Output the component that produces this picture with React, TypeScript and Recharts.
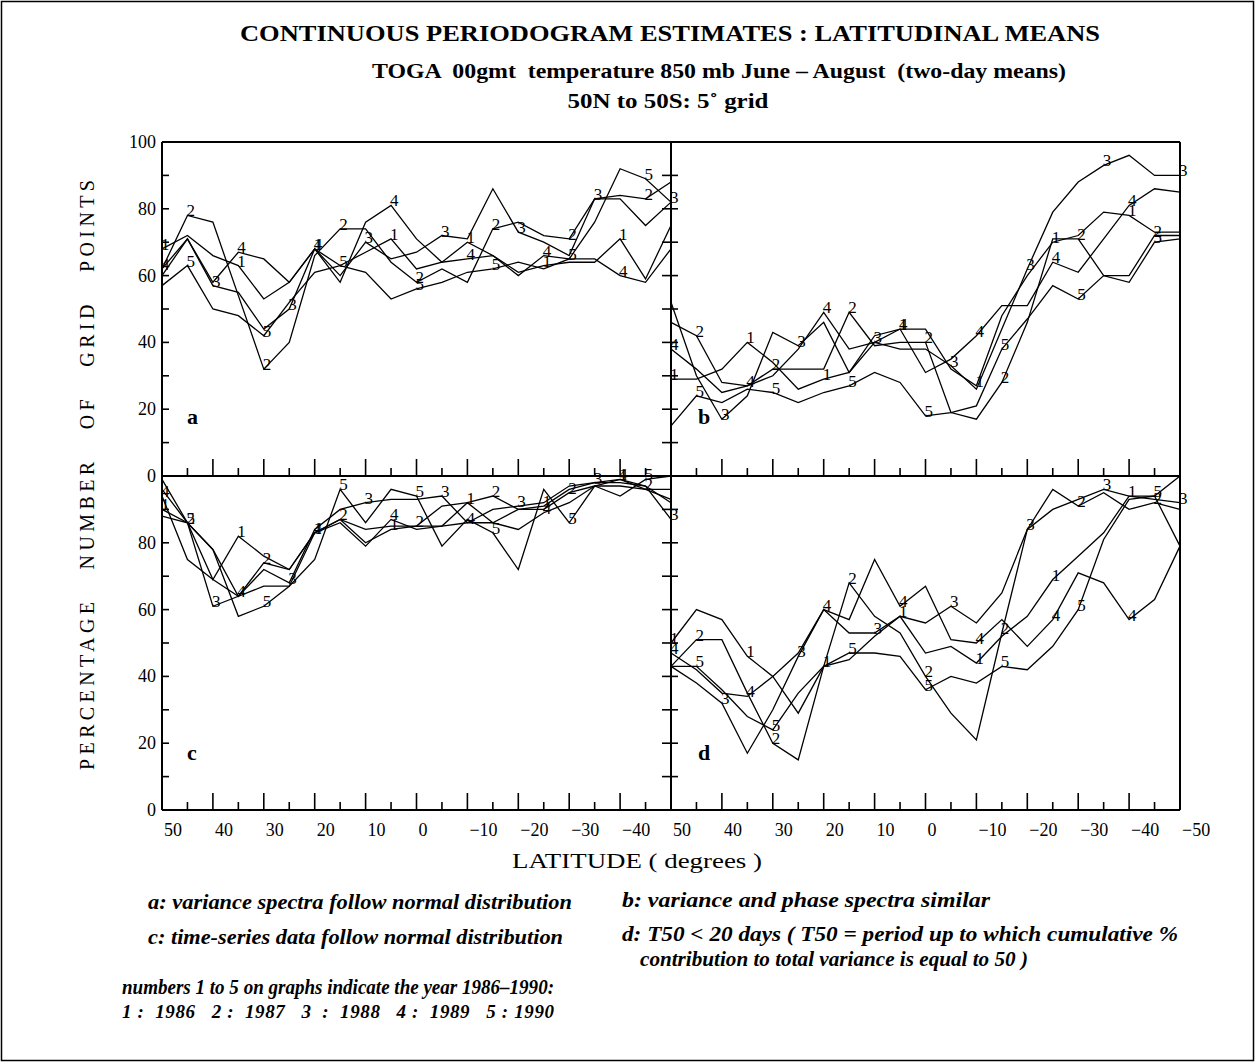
import React from "react";
import { LineChart, Line, XAxis, YAxis } from "recharts";

const SERIF = "'Liberation Serif', 'Times New Roman', Times, serif";

// latitude grid, 50N .. 50S every 5 degrees
const lats = [50, 45, 40, 35, 30, 25, 20, 15, 10, 5, 0, -5, -10, -15, -20, -25, -30, -35, -40, -45, -50];

// panel a: variance spectra follow normal distribution
const a1 = [68, 72, 66, 63, 53, 58, 68, 63, 67, 71, 62, 64, 70, 66, 61, 63, 64, 64, 71, 59, 75];
const a2 = [62, 78, 76, 54, 32, 40, 66, 74, 74, 64, 58, 62, 58, 74, 76, 72, 71, 83, 84, 83, 88];
const a3 = [60, 71, 57, 55, 44, 50, 68, 60, 70, 65, 67, 72, 71, 86, 73, 70, 66, 83, 83, 75, 82];
const a4 = [62, 71, 58, 67, 65, 58, 68, 58, 76, 81, 71, 64, 65, 66, 60, 66, 65, 65, 60, 58, 68];
const a5 = [57, 63, 50, 48, 42, 52, 61, 63, 61, 53, 56, 58, 61, 62, 64, 62, 65, 76, 92, 89, 82];

// panel b: variance and phase spectra similar
const b1 = [29, 29, 32, 40, 34, 26, 29, 31, 42, 44, 44, 32, 27, 48, 60, 70, 72, 79, 78, 73, 73];
const b2 = [46, 42, 28, 27, 32, 32, 32, 49, 39, 40, 40, 19, 17, 28, 46, 71, 71, 60, 60, 72, 72];
const b3 = [52, 30, 17, 24, 43, 39, 46, 31, 40, 38, 38, 33, 26, 44, 62, 79, 88, 93, 96, 90, 90];
const b4 = [38, 32, 25, 27, 30, 38, 49, 38, 40, 44, 31, 35, 42, 51, 51, 64, 61, 71, 81, 86, 85];
const b5 = [15, 24, 22, 26, 25, 22, 25, 27, 31, 28, 18, 19, 21, 38, 47, 57, 53, 60, 58, 70, 71];

// panel c: time-series data follow normal distribution
const c1 = [90, 86, 69, 82, 76, 72, 83, 87, 80, 84, 85, 85, 92, 86, 90, 91, 96, 98, 99, 97, 92];
const c2 = [96, 86, 78, 64, 74, 72, 83, 87, 84, 85, 85, 91, 92, 94, 90, 90, 95, 97, 97, 96, 96];
const c3 = [99, 86, 61, 64, 72, 68, 84, 90, 92, 93, 93, 94, 86, 90, 91, 92, 97, 98, 98, 97, 87];
const c4 = [94, 75, 69, 64, 67, 67, 83, 86, 79, 87, 84, 85, 86, 86, 84, 89, 92, 97, 99, 96, 93];
const c5 = [88, 86, 78, 58, 61, 67, 75, 96, 86, 96, 94, 79, 87, 83, 72, 96, 86, 97, 94, 99, 100];

// panel d: T50 < 20 days
const d1 = [50, 60, 57, 46, 40, 29, 43, 45, 52, 58, 47, 49, 44, 52, 58, 69, 76, 83, 94, 94, 100];
const d2 = [43, 51, 51, 35, 20, 15, 43, 68, 58, 53, 40, 29, 21, 53, 84, 96, 91, 95, 90, 92, 90];
const d3 = [43, 38, 32, 17, 30, 46, 60, 53, 53, 58, 56, 61, 56, 65, 84, 90, 93, 96, 94, 93, 92];
const d4 = [47, 42, 35, 34, 40, 47, 60, 57, 75, 61, 67, 51, 50, 57, 49, 57, 71, 68, 57, 63, 79];
const d5 = [43, 43, 36, 28, 24, 35, 43, 47, 47, 46, 36, 40, 38, 43, 42, 49, 60, 81, 93, 94, 79];

const yTicks = [0, 10, 20, 30, 40, 50, 60, 70, 80, 90, 100];
const upperYLabels = [100, 80, 60, 40, 20, 0];
const lowerYLabels = [80, 60, 40, 20, 0];
const xLabelsLeft = [50, 40, 30, 20, 10, 0, -10, -20, -30, -40];
const xLabelsRight = [50, 40, 30, 20, 10, 0, -10, -20, -30, -40, -50];

// year markers drawn on the curves (1 = 1986 ... 5 = 1990)
const years = ["1", "2", "3", "4", "5"];
const labelPhase = [0, 1, 2, 0, 1];

const PLOT_W = 509;
const PLOT_H = 334;
const OFF_X = 62;
const OFF_Y = 20;
const CH_W = 633;
const CH_H = 404;

const frame = { stroke: "#000", strokeWidth: 2 };
const pre = { whiteSpace: "pre" } as React.CSSProperties;

const fmt = (v: number) => (v < 0 ? `\u2212${-v}` : `${v}`);

type PanelProps = {
  series: number[][];
  x: number;
  y: number;
  leftLabels: number[] | null;
  rightLabels: number[] | null;
  divider: boolean;
  xLabels: number[] | null;
};

function Panel({ series, x, y, leftLabels, rightLabels, divider, xLabels }: PanelProps) {
  const data = lats.map((lat, i) => {
    const row: Record<string, number> = { lat };
    series.forEach((s, k) => {
      row[`s${k + 1}`] = s[i];
    });
    return row;
  });

  const bottomTick = (p: any) => {
    const v = p.payload.value;
    const len = v % 10 === 0 ? 17 : 8;
    const edge = v === 50 || v === -50;
    return (
      <g>
        {!edge && <line x1={p.x} x2={p.x} y1={p.y} y2={p.y - len} stroke="#000" strokeWidth={1.6} />}
        {xLabels && xLabels.includes(v) && (
          <text x={p.x + 2} y={p.y + 26} textAnchor="start" fontFamily={SERIF} fontSize={18} fill="#000">
            {fmt(v)}
          </text>
        )}
      </g>
    );
  };

  const leftTick = (p: any) => {
    const v = p.payload.value;
    return (
      <g>
        <line x1={divider ? p.x - 9 : p.x} x2={p.x + 7} y1={p.y} y2={p.y} stroke="#000" strokeWidth={1.6} />
        {leftLabels && leftLabels.includes(v) && (
          <text x={p.x - 6} y={p.y + 6} textAnchor="end" fontFamily={SERIF} fontSize={18} fill="#000">
            {v}
          </text>
        )}
      </g>
    );
  };

  const rightTick = (p: any) => {
    const v = p.payload.value;
    return (
      <g>
        <line x1={p.x - 7} x2={p.x} y1={p.y} y2={p.y} stroke="#000" strokeWidth={1.6} />
        {rightLabels && rightLabels.includes(v) && (
          <text x={p.x + 7} y={p.y + 6} textAnchor="start" fontFamily={SERIF} fontSize={18} fill="#000">
            {v}
          </text>
        )}
      </g>
    );
  };

  const yearDot = (k: number) => (p: any) => {
    const key = `y${k}-${p.index}`;
    if (p.index % 3 !== labelPhase[k]) return <g key={key} />;
    return (
      <text key={key} x={p.cx - 1} y={p.cy + 1} fontFamily={SERIF} fontSize={17} fill="#000">
        {years[k]}
      </text>
    );
  };

  return (
    <div style={{ position: "absolute", left: x - OFF_X, top: y - OFF_Y }}>
      <LineChart width={CH_W} height={CH_H} data={data} margin={{ top: 10, right: 12, bottom: 10, left: 12 }}>
        <XAxis
          dataKey="lat"
          type="number"
          domain={[-50, 50]}
          reversed
          ticks={lats}
          interval={0}
          tickSize={0}
          tickMargin={0}
          height={40}
          tickLine={false}
          axisLine={frame}
          tick={bottomTick}
        />
        <XAxis
          xAxisId="top"
          orientation="top"
          dataKey="lat"
          type="number"
          domain={[-50, 50]}
          reversed
          height={10}
          tick={false}
          tickLine={false}
          axisLine={frame}
        />
        <YAxis
          domain={[0, 100]}
          ticks={yTicks}
          interval={0}
          width={50}
          tickSize={0}
          tickMargin={0}
          tickLine={false}
          axisLine={frame}
          tick={leftTick}
        />
        <YAxis
          yAxisId="r"
          orientation="right"
          domain={[0, 100]}
          ticks={yTicks}
          interval={0}
          width={50}
          tickSize={0}
          tickMargin={0}
          tickLine={false}
          axisLine={frame}
          tick={rightLabels ? rightTick : false}
        />
        {series.map((_, k) => (
          <Line
            key={k}
            dataKey={`s${k + 1}`}
            type="linear"
            stroke="#000"
            strokeWidth={1.3}
            dot={yearDot(k)}
            activeDot={false}
            isAnimationActive={false}
          />
        ))}
      </LineChart>
    </div>
  );
}

export default function App() {
  const left = 162;
  const mid = left + PLOT_W;
  const top = 142;
  const midY = top + PLOT_H;
  return (
    <div style={{ position: "absolute", left: 0, top: 0, width: 1256, height: 1063, background: "#fff", fontFamily: SERIF }}>
      <svg width={1256} height={1063} style={{ position: "absolute", left: 0, top: 0 }} fontFamily={SERIF} fill="#000">
        <rect x={1.5} y={1.5} width={1252} height={1059} fill="none" stroke="#000" strokeWidth={1.5} />
        <text x={670} y={41} textAnchor="middle" fontWeight="bold" fontSize={24} textLength={860} lengthAdjust="spacingAndGlyphs">
          CONTINUOUS PERIODOGRAM ESTIMATES : LATITUDINAL MEANS
        </text>
        <text x={719} y={78} textAnchor="middle" fontWeight="bold" fontSize={21} textLength={694} lengthAdjust="spacingAndGlyphs" style={pre}>
          {"TOGA  00gmt  temperature 850 mb June \u2013 August  (two-day means)"}
        </text>
        <text x={668} y={108} textAnchor="middle" fontWeight="bold" fontSize={21} textLength={201} lengthAdjust="spacingAndGlyphs">
          50N to 50S: 5˚ grid
        </text>
        <text
          transform="translate(94, 475) rotate(-90)"
          textAnchor="middle"
          fontSize={20}
          textLength={590}
          lengthAdjust="spacing"
          style={pre}
        >
          {"PERCENTAGE   NUMBER   OF   GRID   POINTS"}
        </text>
        <text x={637} y={868} textAnchor="middle" fontSize={21} textLength={250} lengthAdjust="spacingAndGlyphs">
          LATITUDE ( degrees )
        </text>
        <text x={187} y={424} fontWeight="bold" fontSize={22}>a</text>
        <text x={698} y={424} fontWeight="bold" fontSize={22}>b</text>
        <text x={187} y={760} fontWeight="bold" fontSize={22}>c</text>
        <text x={698} y={760} fontWeight="bold" fontSize={22}>d</text>
        <g fontWeight="bold" fontStyle="italic" fontSize={20}>
          <text x={148} y={909} textLength={424} lengthAdjust="spacingAndGlyphs">a: variance spectra follow normal distribution</text>
          <text x={622} y={907} textLength={368} lengthAdjust="spacingAndGlyphs">b: variance and phase spectra similar</text>
          <text x={148} y={944} textLength={415} lengthAdjust="spacingAndGlyphs">c: time-series data follow normal distribution</text>
          <text x={622} y={941} textLength={556} lengthAdjust="spacingAndGlyphs">{"d: T50 < 20 days ( T50 = period up to which cumulative %"}</text>
          <text x={640} y={966} textLength={388} lengthAdjust="spacingAndGlyphs">contribution to total variance is equal to 50 )</text>
          <text x={122} y={994} textLength={432} lengthAdjust="spacingAndGlyphs">{"numbers 1 to 5 on graphs indicate the year 1986\u20131990:"}</text>
          <text x={122} y={1018} fontSize={19} textLength={432} lengthAdjust="spacing" style={pre}>
            {"1 :  1986   2 :  1987   3  :  1988   4 :  1989   5 : 1990"}
          </text>
        </g>
      </svg>
      <Panel series={[a1, a2, a3, a4, a5]} x={left} y={top} leftLabels={upperYLabels} rightLabels={null} divider={false} xLabels={null} />
      <Panel series={[b1, b2, b3, b4, b5]} x={mid} y={top} leftLabels={null} rightLabels={upperYLabels} divider={true} xLabels={null} />
      <Panel series={[c1, c2, c3, c4, c5]} x={left} y={midY} leftLabels={lowerYLabels} rightLabels={null} divider={false} xLabels={xLabelsLeft} />
      <Panel series={[d1, d2, d3, d4, d5]} x={mid} y={midY} leftLabels={null} rightLabels={lowerYLabels} divider={true} xLabels={xLabelsRight} />
    </div>
  );
}
